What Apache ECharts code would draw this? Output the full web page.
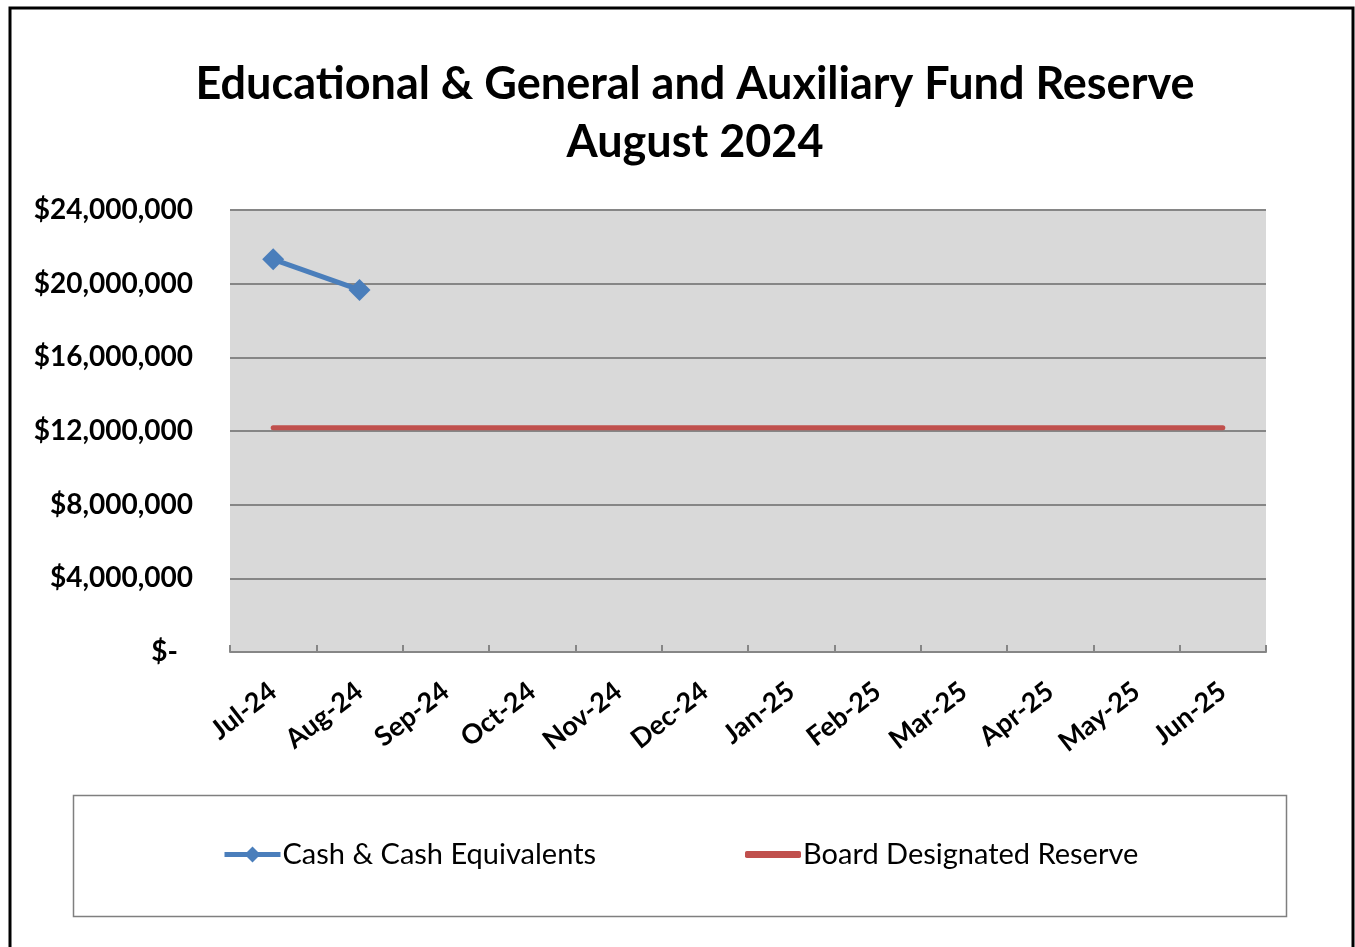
<!DOCTYPE html>
<html>
<head>
<meta charset="utf-8">
<script src="https://cdn.jsdelivr.net/npm/echarts@6/dist/echarts.min.js"></script>
<style>
html,body{margin:0;padding:0;background:#fff;}
#c{width:1355px;height:947px;}
</style>
</head>
<body>
<div id="c"></div>
<script>
const categories = ['Jul-24','Aug-24','Sep-24','Oct-24','Nov-24','Dec-24','Jan-25','Feb-25','Mar-25','Apr-25','May-25','Jun-25'];
const cashValues = [21320000, 19660000, null, null, null, null, null, null, null, null, null, null];
const reserveValues = [12180000, 12180000, 12180000, 12180000, 12180000, 12180000, 12180000, 12180000, 12180000, 12180000, 12180000, 12180000];
const seriesNames = ['Cash & Cash Equivalents', 'Board Designated Reserve'];

const FONT = 'Lato';
const chart = echarts.init(document.getElementById('c'), null, {renderer: 'canvas'});

function fmt(v) {
  if (v === 0) return '{z|$-}';
  return '$' + v.toLocaleString('en-US');
}

chart.setOption({
  backgroundColor: '#ffffff',
  animation: false,
  title: {
    text: 'Educational & General and Auxiliary Fund Reserve\nAugust 2024',
    left: 690,
    top: 50,
    textAlign: 'center',
    textStyle: {fontFamily: FONT, fontWeight: 'bold', fontSize: 45, lineHeight: 58, color: '#000'}
  },
  graphic: [
    {type: 'rect', shape: {x: 10, y: 8, width: 1343, height: 980}, style: {fill: 'none', stroke: '#000', lineWidth: 3}, silent: true},
    {type: 'rect', shape: {x: 73.5, y: 795.5, width: 1213, height: 121}, style: {fill: 'none', stroke: '#7f7f7f', lineWidth: 1.5}, silent: true}
  ],
  legend: [
    {
      data: [{name: seriesNames[0]}], left: 222, top: 840, padding: 0,
      itemWidth: 56, itemHeight: 20, itemGap: 0,
      lineStyle: {width: 5},
      textStyle: {fontFamily: FONT, fontSize: 29, color: '#000', padding: [0,0,0,-3]}
    },
    {
      data: [{name: seriesNames[1], icon: 'roundRect', itemStyle: {color: '#c0504d'}}], left: 745, top: 840, padding: 0,
      itemWidth: 56, itemHeight: 7, itemGap: 0,
      textStyle: {fontFamily: FONT, fontSize: 29, color: '#000', padding: [0,0,0,-3]}
    }
  ],
  grid: {
    left: 230, right: 89, top: 210, bottom: 295,
    show: true, backgroundColor: '#d9d9d9', borderWidth: 0,
    containLabel: false
  },
  xAxis: {
    type: 'category',
    data: categories,
    boundaryGap: true,
    axisLine: {show: true, lineStyle: {color: '#868686', width: 2}},
    axisTick: {show: true, inside: true, length: 7, lineStyle: {color: '#868686', width: 2}},
    axisLabel: {rotate: 38, margin: 36, interval: 0, fontFamily: FONT, fontWeight: 'bold', fontSize: 27, color: '#000'},
    splitLine: {show: false}
  },
  yAxis: {
    type: 'value',
    min: 0, max: 24000000, interval: 4000000,
    axisLine: {show: false},
    axisTick: {show: false},
    splitLine: {show: true, lineStyle: {color: '#868686', width: 2}},
    axisLabel: {
      margin: 37,
      formatter: fmt,
      fontFamily: FONT, fontWeight: 'bold', fontSize: 28, color: '#000',
      rich: {z: {fontFamily: FONT, fontWeight: 'bold', fontSize: 28, color: '#000', padding: [0, 15, 0, 0]}}
    }
  },
  series: [
    {
      name: seriesNames[0], type: 'line', data: cashValues,
      symbol: 'diamond', symbolSize: 22,
      lineStyle: {color: '#4a7ebb', width: 5},
      itemStyle: {color: '#4a7ebb'},
      z: 3
    },
    {
      name: seriesNames[1], type: 'line', data: reserveValues,
      symbol: 'none',
      lineStyle: {color: '#c0504d', width: 5, cap: 'round'},
      itemStyle: {color: '#c0504d'},
      z: 2
    }
  ]
});
</script>
</body>
</html>
